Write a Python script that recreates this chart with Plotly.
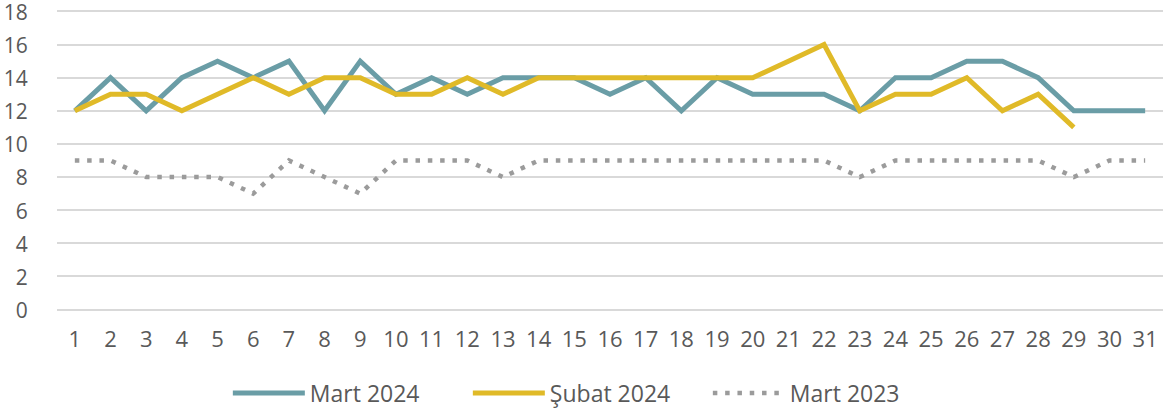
import plotly.graph_objects as go

days = list(range(1, 32))
mart_2024 = [12, 14, 12, 14, 15, 14, 15, 12, 15, 13, 14, 13, 14, 14, 14, 13,
             14, 12, 14, 13, 13, 13, 12, 14, 14, 15, 15, 14, 12, 12, 12]
subat_2024 = [12, 13, 13, 12, 13, 14, 13, 14, 14, 13, 13, 14, 13, 14, 14, 14,
              14, 14, 14, 14, 15, 16, 12, 13, 13, 14, 12, 13, 11]
mart_2023 = [9, 9, 8, 8, 8, 7, 9, 8, 7, 9, 9, 9, 8, 9, 9, 9,
             9, 9, 9, 9, 9, 9, 8, 9, 9, 9, 9, 9, 8, 9, 9]
y_ticks = list(range(0, 19, 2))

FONT = "Open Sans"
TXT = "#595959"

fig = go.Figure()
fig.add_trace(go.Scatter(x=days, y=mart_2024, mode="lines", name="Mart 2024",
                         line=dict(color="#6A9DA6", width=5)))
fig.add_trace(go.Scatter(x=days[:len(subat_2024)], y=subat_2024, mode="lines", name="Şubat 2024",
                         line=dict(color="#E0BA28", width=5)))
fig.add_trace(go.Scatter(x=days, y=mart_2023, mode="lines", name="Mart 2023",
                         line=dict(color="#9B9B9B", width=4.5, dash="4.5px,7.8px")))

# plot area: y=18 at px 11, y=0 at px 310 (range padded so edge gridlines are kept)
pad = 0.15
px_per_unit = (310 - 11) / 18.0
fig.update_layout(
    width=1171, height=414,
    margin=dict(l=57, r=8, t=round(11 - pad * px_per_unit), b=round(414 - 310 - pad * px_per_unit)),
    paper_bgcolor="white", plot_bgcolor="white",
    font=dict(family=FONT, size=22, color=TXT),
    showlegend=True,
    hovermode=False,
    legend=dict(orientation="h", xref="container", x=0.502, xanchor="center",
                yref="container", y=(414 - 393) / 414, yanchor="middle",
                font=dict(family=FONT, size=23, color=TXT), itemwidth=72,
                entrywidth=153, entrywidthmode="pixels",
                traceorder="normal"),
)
fig.update_xaxes(range=[0.5, 31.5], tickmode="array", tickvals=days,
                 ticktext=[str(d) for d in days], showgrid=False, zeroline=False,
                 showline=False, ticks="outside", ticklen=8, tickcolor="rgba(0,0,0,0)",
                 automargin=False, ticklabeloverflow="allow",
                 tickfont=dict(family=FONT, size=22, color=TXT))
fig.update_yaxes(range=[-pad, 18 + pad], tickmode="array", tickvals=y_ticks,
                 ticktext=[str(v) for v in y_ticks], showgrid=True, gridcolor="#D9D9D9",
                 gridwidth=2, zeroline=False,
                 showline=False, ticks="outside", ticklen=24, tickcolor="rgba(0,0,0,0)",
                 automargin=False, ticklabeloverflow="allow", ticklabelshift=1,
                 tickfont=dict(family=FONT, size=21, color=TXT))

fig.write_html("out.html", config={"displayModeBar": False, "staticPlot": True},
               post_script="document.body.style.margin='0';")
